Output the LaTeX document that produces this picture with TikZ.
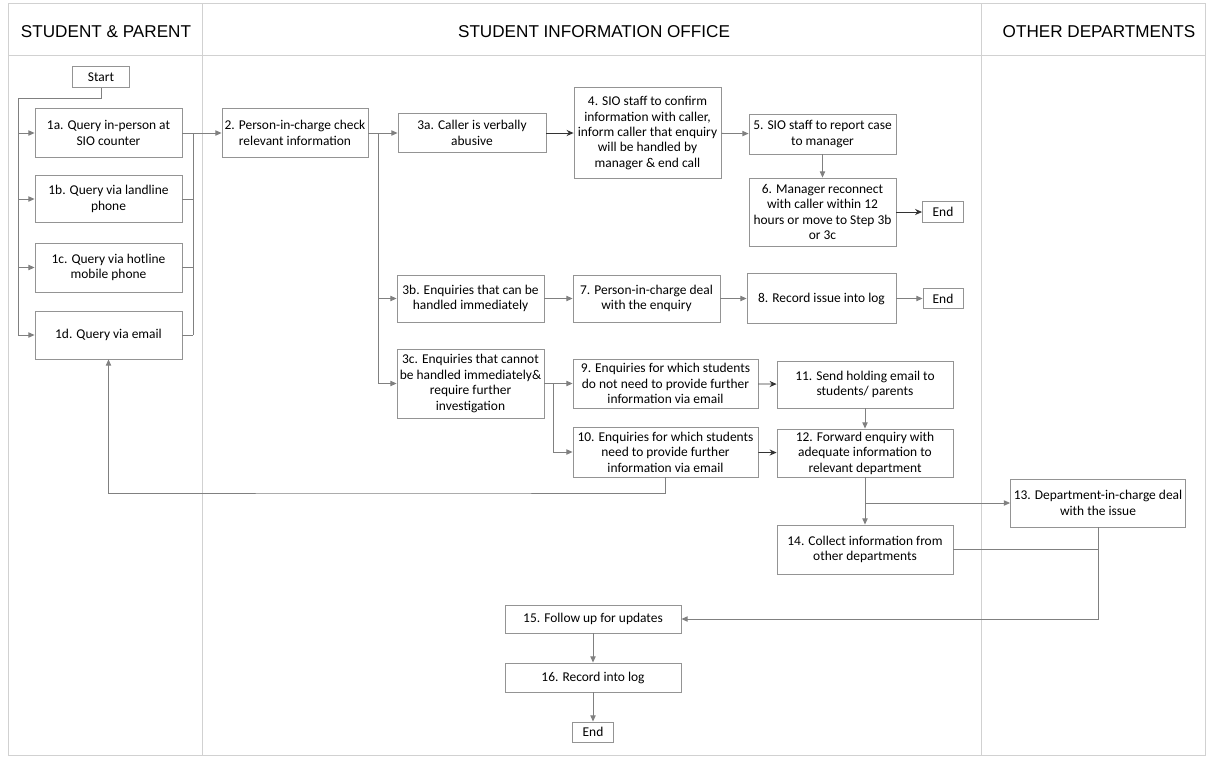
\documentclass[tikz,border=0pt]{standalone}
\usepackage{fontspec}
\setmainfont{Carlito}
\newfontfamily\headfont{Liberation Sans}
\usetikzlibrary{arrows.meta}

\begin{document}
\begin{tikzpicture}[x=0.02cm,y=-0.02cm,
        lane/.style={draw=black!18,line width=0.5pt},
        title/.style={font=\headfont\fontsize{9.75}{11}\selectfont},
        box/.style={draw=black!42,line width=0.5pt,fill=white,align=center,inner sep=1pt,
            font=\fontsize{7.65}{8.8}\selectfont,minimum width=2.94cm,minimum height=0.98cm},
        endbox/.style={box,minimum width=0.82cm,minimum height=0.41cm},
        line/.style={draw=black!50,line width=0.5pt},
        arr/.style={line,-{Triangle[length=3.5pt,width=3pt]}},
        darr/.style={draw=black!80,line width=0.5pt,-{Stealth[length=4pt,width=3.5pt]}}]

    \useasboundingbox (0,0) rectangle (1211,758);

    \draw[lane] (8,3) rectangle (1205,755);
    \draw[lane] (8,55) -- (1205,55);
    \draw[lane] (202,3) -- (202,755);
    \draw[lane] (981,3) -- (981,755);

    \node[title] (tsp)   at (106,32)  {STUDENT \& PARENT};
    \node[title] (tsio)  at (594,32)  {STUDENT INFORMATION OFFICE};
    \node[title] (tdept) at (1099,32) {OTHER DEPARTMENTS};

    \node[endbox,minimum width=1.14cm] (start) at (101,77) {Start};
    \node[box] (q1a) at (108.5,133) {1a. Query in-person at\\SIO counter};
    \node[box,minimum height=0.94cm] (q1b) at (108.5,199) {1b. Query via landline\\phone};
    \node[box] (q1c) at (108.5,267.5) {1c. Query via hotline\\mobile phone};
    \node[box,minimum height=0.96cm] (q1d) at (108.5,335) {1d. Query via email};

    \node[box,minimum width=2.92cm] (check) at (295,133) {2. Person-in-charge check\\relevant information};

    \node[box,minimum width=2.96cm,minimum height=0.78cm] (abuse) at (472,133) {3a. Caller is verbally\\abusive};
    \node[box,minimum height=1.82cm] (confirm) at (647.5,133) {4. SIO staff to confirm\\information with caller,\\inform caller that enquiry\\will be handled by\\manager \& end call};
    \node[box,minimum height=0.8cm] (report) at (822.5,134) {5. SIO staff to report case\\to manager};
    \node[box,minimum height=1.36cm] (reconnect) at (822.5,212) {6. Manager reconnect\\with caller within 12\\hours or move to Step 3b\\or 3c};
    \node[endbox] (end6) at (943,212) {End};

    \node[box,minimum height=0.94cm] (handle) at (470.5,298.5) {3b. Enquiries that can be\\handled immediately};
    \node[box,minimum height=0.94cm] (deal) at (646.5,298.5) {7. Person-in-charge deal\\with the enquiry};
    \node[box,minimum width=2.98cm,minimum height=1cm] (record) at (821.5,298.5) {8. Record issue into log};
    \node[endbox,minimum width=0.8cm,minimum height=0.4cm] (end8) at (943,298.5) {End};

    \node[box,minimum height=1.38cm] (cannot) at (470.5,383.5) {3c. Enquiries that cannot\\be handled immediately\&\\require further\\investigation};
    \node[box,minimum width=3.7cm] (nofurther) at (665.5,383.5) {9. Enquiries for which students\\do not need to provide further\\information via email};
    \node[box,minimum width=3.7cm,minimum height=1cm] (further) at (665.5,452) {10. Enquiries for which students\\need to provide further\\information via email};
    \node[box,minimum width=3.52cm,minimum height=0.94cm] (holding) at (865,384.5) {11. Send holding email to\\students/ parents};
    \node[box,minimum width=3.52cm,minimum height=0.96cm] (forward) at (865,453) {12. Forward enquiry with\\adequate information to\\relevant department};

    \node[box,minimum width=3.5cm,minimum height=0.96cm] (depthandle) at (1098,503) {13. Department-in-charge deal\\with the issue};
    \node[box,minimum width=3.52cm] (collect) at (865,549.5) {14. Collect information from\\other departments};

    \node[box,minimum width=3.52cm,minimum height=0.56cm] (follow) at (593,619) {15. Follow up for updates};
    \node[box,minimum width=3.52cm,minimum height=0.58cm] (log) at (593,677.5) {16. Record into log};
    \node[endbox,minimum height=0.4cm] (endlast) at (593,732) {End};

    \coordinate (lbus) at (18,98);
    \draw[line] (start.south) |- (lbus) -- (lbus |- q1d.west);
    \foreach \n in {q1a,q1b,q1c,q1d}
        \draw[arr] (lbus |- \n.west) -- (\n.west);

    \coordinate (rbus) at (193,0);
    \foreach \n in {q1a,q1b,q1c,q1d}
        \draw[line] (\n.east) -- (rbus |- \n.east);
    \draw[line] (rbus |- q1a.east) -- (rbus |- q1d.east);
    \draw[arr] (rbus |- check.west) -- (check.west);

    \coordinate (sbus) at (378,0);
    \draw[line] (check.east) -- (sbus |- check.east) -- (sbus |- cannot.west);
    \foreach \n in {abuse,handle,cannot}
        \draw[arr] (sbus |- \n.west) -- (\n.west);

    \draw[darr] (abuse) -- (confirm);
    \draw[arr] (confirm) -- (report);
    \draw[arr] (report) -- (reconnect);
    \draw[darr] (reconnect) -- (end6);
    \draw[arr] (handle) -- (deal);
    \draw[arr] (deal) -- (record);
    \draw[arr] (record) -- (end8);

    \coordinate (ebus) at (553,0);
    \draw[line] (cannot.east) -- (ebus |- cannot.east) -- (ebus |- further.west);
    \draw[arr] (ebus |- nofurther.west) -- (nofurther.west);
    \draw[arr] (ebus |- further.west) -- (further.west);
    \draw[darr] (nofurther) -- (holding);
    \draw[darr] (further) -- (forward);
    \draw[arr] (holding) -- (forward);

    \coordinate (back) at (400,493);
    \draw[arr] (further.south) |- (back) -| (q1d.south);

    \draw[arr] (forward) -- (collect);
    \draw[arr] (forward.south |- depthandle.west) -- (depthandle.west);
    \draw[line] (collect.east) -- (collect.east -| depthandle.south);
    \draw[arr] (depthandle.south) |- (follow.east);
    \draw[arr] (follow) -- (log);
    \draw[arr] (log) -- (endlast);

\end{tikzpicture}
\end{document}
